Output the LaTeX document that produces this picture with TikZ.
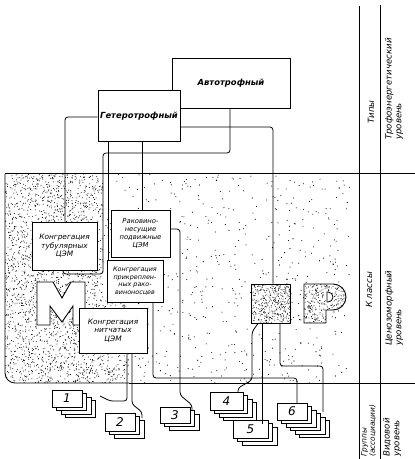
\documentclass[tikz,border=0pt]{standalone}
\usepackage{fontspec}
\setmainfont{DejaVu Sans}
\begin{document}
\begin{tikzpicture}[x=1pt,y=-1pt,
  box/.style={draw,line width=0.9pt,fill=white,inner sep=0pt,align=center,font=\fontsize{7.4}{8.6}\selectfont\itshape},
  topbox/.style={box,font=\fontsize{8.4}{9}\selectfont\bfseries\itshape},
  card/.style={draw,line width=0.8pt,fill=white},
  num/.style={font=\fontsize{12}{13}\selectfont\itshape},
  conn/.style={line width=0.8pt,rounded corners=3pt},
  rule/.style={line width=0.8pt},
  lbl/.style={rotate=90,font=\fontsize{8.6}{9.6}\selectfont\itshape,align=left,inner sep=0pt}]
\useasboundingbox (0,0) rectangle (415,459);
% ---------- stipple ----------
\pgfmathsetseed{7}
\begin{scope}
  \clip[rounded corners=10pt] (5,174) -- (103,174) -- (103,300) -- (129,300) -- (129,383) -- (5,383) -- cycle;
  \foreach \i in {1,...,2800}{
    \pgfmathsetmacro{\px}{5+124*rnd}\pgfmathsetmacro{\py}{174+209*rnd}
    \fill (\px,\py) circle (0.5);}
\end{scope}
\begin{scope}
  \clip (103,174) -- (350,174) -- (350,383) -- (129,383) -- (129,300) -- (103,300) -- cycle;
  \foreach \i in {1,...,600}{
    \pgfmathsetmacro{\px}{103+247*rnd}\pgfmathsetmacro{\py}{174+209*rnd}
    \fill (\px,\py) circle (0.55);}
\end{scope}
\draw[rule,rounded corners=10pt] (5,174) -- (5,383) -- (129,383);
% ---------- level rules ----------
\draw[rule] (5,173) -- (415,173);
\draw[rule] (129,383) -- (415,383);
\draw[rule] (359,6) -- (359,459);
\draw[rule] (380,5) -- (380,459);
% ---------- level labels ----------
\node[lbl] (tipy) at (371,112) {Типы};
\node[lbl,anchor=north west] (troflvl) at (385,140) {Трофоэнергетический\\уровень};
\node[lbl] (klassy) at (369,290) {К лассы};
\node[lbl,anchor=north west] (cenlvl) at (385,346) {Ценозоморфный\\уровень};
\node[lbl,anchor=north west,font=\fontsize{7.4}{8.4}\selectfont\itshape] (grlvl) at (361,457) {Группы\\(ассоциации)};
\node[lbl,anchor=north west] (vidlvl) at (383,457) {Видовой\\уровень};
% ---------- top boxes ----------
\node[topbox,minimum width=118pt,minimum height=50pt] (auto) at (231,83) {Автотрофный};
\node[topbox,minimum width=82pt,minimum height=51pt] (hetero) at (139,116) {Гетеротрофный};
% ---------- class boxes ----------
\node[box,minimum width=65pt,minimum height=48pt] (tub) at (64.5,246) {Конгрегация\\тубулярных\\ЦЭМ};
\node[box,minimum width=59pt,minimum height=47pt,font=\fontsize{6.8}{7.8}\selectfont\itshape] (rak) at (140.5,233.5) {Раковино-\\несущие\\подвижные\\ЦЭМ};
\node[box,minimum width=56pt,minimum height=42pt,font=\fontsize{6.4}{7.6}\selectfont\itshape] (prik) at (135,281) {Конгрегация\\прикреплен-\\ных рако-\\виноносцев};
% M shape
\draw[line width=0.9pt,fill=white] (37,282) -- (53,282) -- (62,298) -- (71,282) -- (85,282) -- (85,325) -- (73,325) -- (73,306) -- (62,322) -- (50,306) -- (50,325) -- (37,325) -- cycle;
\node[box,minimum width=68pt,minimum height=45pt] (nit) at (113,330.5) {Конгрегация\\нитчатых\\ЦЭМ};
% stippled square and P
\node[draw,line width=0.9pt,minimum width=39pt,minimum height=39pt,inner sep=0pt] (sq) at (270.5,303.5) {};
\begin{scope}
  \clip (251,284) rectangle (290,323);
  \foreach \i in {1,...,380}{\pgfmathsetmacro{\px}{251+39*rnd}\pgfmathsetmacro{\py}{284+39*rnd}\fill (\px,\py) circle (0.45);}
\end{scope}
\begin{scope}
  \clip (304,284) -- (333,284) arc[start angle=-90,end angle=90,radius=13] -- (326,310) -- (326,323) -- (304,323) -- cycle;
  \foreach \i in {1,...,300}{\pgfmathsetmacro{\px}{304+43*rnd}\pgfmathsetmacro{\py}{284+39*rnd}\fill (\px,\py) circle (0.45);}
\end{scope}
\draw[line width=0.9pt] (304,284) -- (333,284) arc[start angle=-90,end angle=90,radius=13] -- (326,310) -- (326,323) -- (304,323) -- cycle;
\draw[line width=0.8pt,fill=white] (327,292) -- (328,292) arc[start angle=-90,end angle=90,radius=5] -- (327,302) -- cycle;
% ---------- card stacks ----------
\newcommand{\cardstack}[6]{% name, x, y, w, h, n
  \foreach \k in {#6,...,1}{
    \pgfmathsetmacro{\ox}{#2+(\k-1)*4.5}\pgfmathsetmacro{\oy}{#3+(\k-1)*3.5}
    \draw[card] (\ox,\oy) rectangle ++(#4,#5);}
  \coordinate (#1) at (#2+#4/2,#3+#5/2);}
\cardstack{g1}{52}{390}{30}{17}{4}
\node[num] (n1) at (g1) {1};
\cardstack{g2}{105}{413}{30}{18}{3}
\node[num] (n2) at (g2) {2};
\cardstack{g3}{160}{407}{30}{16}{3}
\node[num] (n3) at (g3) {3};
\cardstack{g4}{210}{392}{33}{18}{4}
\node[num] (n4) at (g4) {4};
\cardstack{g5}{233}{420}{35}{18}{3}
\node[num] (n5) at (g5) {5};
\cardstack{g6}{277}{403}{30}{17}{6}
\node[num] (n6) at (g6) {6};
% ---------- connectors (top) ----------
\draw[conn] (hetero.west |- 0,117) -- (65,117) -- (tub.north -| 65,0);
\draw[conn] (hetero.south -| 108,0) -- (108,260);
\draw[conn] (hetero.south -| 142,0) -- (rak.north -| 142,0);
\draw[conn] (hetero.east |- 0,127) -- (273,127) -- (sq.north -| 273,0);
\draw[conn] (auto.south -| 230,0) -- (230,153) -- (103,153) -- (103,274) -- (63,274) -- (tub.south -| 63,0);
% ---------- connectors (bottom) ----------
\draw[conn] (rak.east |- 0,229) -- (180,229) -- (180,395) -- (192,405) -- (192,411);
\draw[conn] (nit.south -| 127,0) -- (127,401) -- (110,401) -- (100,396);
\draw[conn] (nit.south -| 132,0) -- (132,404) -- (142,412) -- (142,418);
\draw[conn] (prik.south -| 153,0) -- (153,378) -- (297,378) -- (297,403);
\draw[conn] (sq.south -| 258,0) -- (252,332) -- (252,380) -- (238,388) -- (238,392);
\draw[conn] (sq.south -| 262,0) -- (262,424);
\draw[conn] (sq.south -| 280,0) -- (280,366) -- (323,366) -- (323,412);
\end{tikzpicture}
\end{document}
